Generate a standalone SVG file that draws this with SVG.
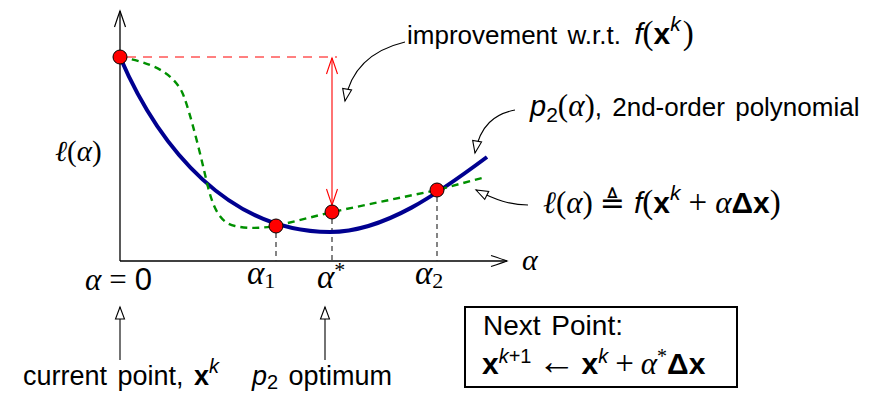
<svg xmlns="http://www.w3.org/2000/svg" width="873" height="393" viewBox="0 0 873 393">
<style>
text{font-family:"Liberation Sans",Arial,sans-serif;font-size:26px;fill:#000;word-spacing:3px}
.m{font-family:"Liberation Serif","DejaVu Serif",serif;font-style:italic}
.r{font-family:"Liberation Serif","DejaVu Serif",serif}
.i{font-style:italic}
.b{font-weight:bold}
.s{font-size:20px}
.mm{font-size:31px}
.axis{stroke:#000;stroke-width:1.3;fill:none}
.guide{stroke:#333;stroke-width:1.2;stroke-dasharray:5 4;fill:none}
.call{stroke:#000;stroke-width:1.1;fill:none}
.dot{fill:#f00;stroke:#000;stroke-width:1}
</style>
<defs>
<marker id="toBlack" markerUnits="userSpaceOnUse" markerWidth="20" markerHeight="14" viewBox="-17 -7 20 14" refX="0" refY="0" orient="auto-start-reverse">
<path d="M-16,-5.5 Q-4,-1.5 0,0 Q-4,1.5 -16,5.5" fill="none" stroke="#000" stroke-width="1.2"/>
</marker>
<marker id="toRed" markerUnits="userSpaceOnUse" markerWidth="20" markerHeight="14" viewBox="-17 -7 20 14" refX="0" refY="0" orient="auto-start-reverse">
<path d="M-16,-5.5 Q-4,-1.5 0,0 Q-4,1.5 -16,5.5" fill="none" stroke="#f00" stroke-width="1.1"/>
</marker>
<marker id="tri" markerUnits="userSpaceOnUse" markerWidth="16" markerHeight="12" viewBox="-14 -6 16 12" refX="0" refY="0" orient="auto">
<path d="M0,0 L-12,-4.5 L-12,4.5 Z" fill="#fff" stroke="#000" stroke-width="1.1"/>
</marker>
</defs>
<g id="axes">
<path class="axis" d="M120,261 L120,11" marker-end="url(#toBlack)"/>
<path class="axis" d="M120,261 L507,261" marker-end="url(#toBlack)"/>
</g>
<g id="connectors">
<path class="guide" d="M276,233 L276,261"/>
<path class="guide" d="M332,219 L332,261"/>
<path class="guide" d="M437,197 L437,261"/>
<path d="M127,57 L337,57" stroke="#f00" stroke-width="1" stroke-dasharray="9 7" fill="none"/>
<path d="M332,58 L332,205" stroke="#f00" stroke-width="1.1" fill="none" marker-start="url(#toRed)" marker-end="url(#toRed)"/>
<path class="call" d="M405,42 C380,48 352,62 345,101" marker-end="url(#tri)"/>
<path class="call" d="M515,110 C495,114 480,125 475,153" marker-end="url(#tri)"/>
<path class="call" d="M528,205 C510,205 496,200 476,190" marker-end="url(#tri)"/>
<path class="call" d="M120,360 L120,307" marker-end="url(#tri)"/>
<path class="call" d="M325,360 L325,307" marker-end="url(#tri)"/>
</g>
<g id="curves">
<path id="p2curve" d="M120,57 C160,150 230,232 330,232 C385,232 440,192 487,157" fill="none" stroke="#000090" stroke-width="4"/>
<path id="lcurve" d="M120,57 C150,62 172,72 182,92 C187,102 197,140 204,170 C210,196 215,222 235,226 C248,229 262,228 276,226 L332,212 L437,190 L482,178" fill="none" stroke="#009000" stroke-width="2.4" stroke-dasharray="7 5"/>
</g>
<g id="points">
<circle class="dot" cx="120" cy="57" r="7"/>
<circle class="dot" cx="276" cy="226" r="7"/>
<circle class="dot" cx="332" cy="212" r="7"/>
<circle class="dot" cx="437" cy="190" r="7"/>
</g>
<g id="labels">
<text x="407" y="44">improvement w.r.t. <tspan class="i" dx="3" style="font-size:30px">f</tspan><tspan class="r" style="font-size:33px">(</tspan><tspan class="b" style="font-size:30px">x</tspan><tspan class="i" style="font-size:21px" dy="-13">k</tspan><tspan class="r" style="font-size:33px" dy="13" dx="2">)</tspan></text>
<text x="530" y="116"><tspan class="i" style="font-size:29px">p</tspan><tspan style="font-size:21px" dy="6">2</tspan><tspan class="r mm" dy="-6">(</tspan><tspan class="m mm">α</tspan><tspan class="r mm">)</tspan>, 2nd-order polynomial</text>
<text x="543" y="213" style="word-spacing:0"><tspan class="m mm">ℓ</tspan><tspan class="r mm">(</tspan><tspan class="m mm">α</tspan><tspan class="r mm">)</tspan><tspan font-family="DejaVu Sans" style="font-size:30px" dx="7">≜</tspan><tspan class="i" style="font-size:30px" dx="9">f</tspan><tspan class="r" style="font-size:33px">(</tspan><tspan class="b" style="font-size:30px">x</tspan><tspan class="i" style="font-size:21px" dy="-13">k</tspan><tspan class="r" style="font-size:33px" dy="13" dx="8">+</tspan><tspan class="m mm" dx="8">α</tspan><tspan class="b" style="font-size:30px">Δx</tspan><tspan class="r" style="font-size:33px">)</tspan></text>
<text x="55" y="161" style="font-size:29px"><tspan class="m">ℓ</tspan><tspan class="r">(</tspan><tspan class="m">α</tspan><tspan class="r">)</tspan></text>
<text x="522" y="270" class="m" style="font-size:30px">α</text>
<text x="85" y="290" style="font-size:31px;word-spacing:0"><tspan class="m">α</tspan><tspan class="r" dx="8">=</tspan><tspan dx="8">0</tspan></text>
<text x="247" y="284" style="font-size:33px"><tspan class="m">α</tspan><tspan class="r" style="font-size:22px" dy="4">1</tspan></text>
<text x="317" y="288" style="font-size:33px"><tspan class="m">α</tspan><tspan class="r" style="font-size:22px" dy="-11">*</tspan></text>
<text x="415" y="284" style="font-size:33px"><tspan class="m">α</tspan><tspan class="r" style="font-size:22px" dy="4">2</tspan></text>
<text x="121" y="385" text-anchor="middle" style="font-size:27px">current point, <tspan class="b">x</tspan><tspan class="i s" dy="-12">k</tspan></text>
<text x="322" y="385" text-anchor="middle" style="font-size:27px"><tspan class="i">p</tspan><tspan class="s" dy="4">2</tspan><tspan dy="-4"> optimum</tspan></text>
</g>
<g id="nextpoint">
<rect x="465" y="307" width="272" height="80" fill="#fff" stroke="#000" stroke-width="2"/>
<text x="483" y="335" style="font-size:28px">Next Point:</text>
<text x="482" y="374" style="font-size:30px;word-spacing:0"><tspan class="b">x</tspan><tspan style="font-size:20px" dy="-11"><tspan class="i">k</tspan>+1</tspan><tspan class="r" dy="11" dx="6" style="font-size:38px">←</tspan><tspan class="b" dx="6">x</tspan><tspan class="i" style="font-size:20px" dy="-11">k</tspan><tspan class="r" style="font-size:33px" dy="11" dx="7">+</tspan><tspan class="m mm" dx="7">α</tspan><tspan class="r" style="font-size:20px" dy="-11">*</tspan><tspan class="b" dy="11">Δx</tspan></text>
</g>
</svg>
